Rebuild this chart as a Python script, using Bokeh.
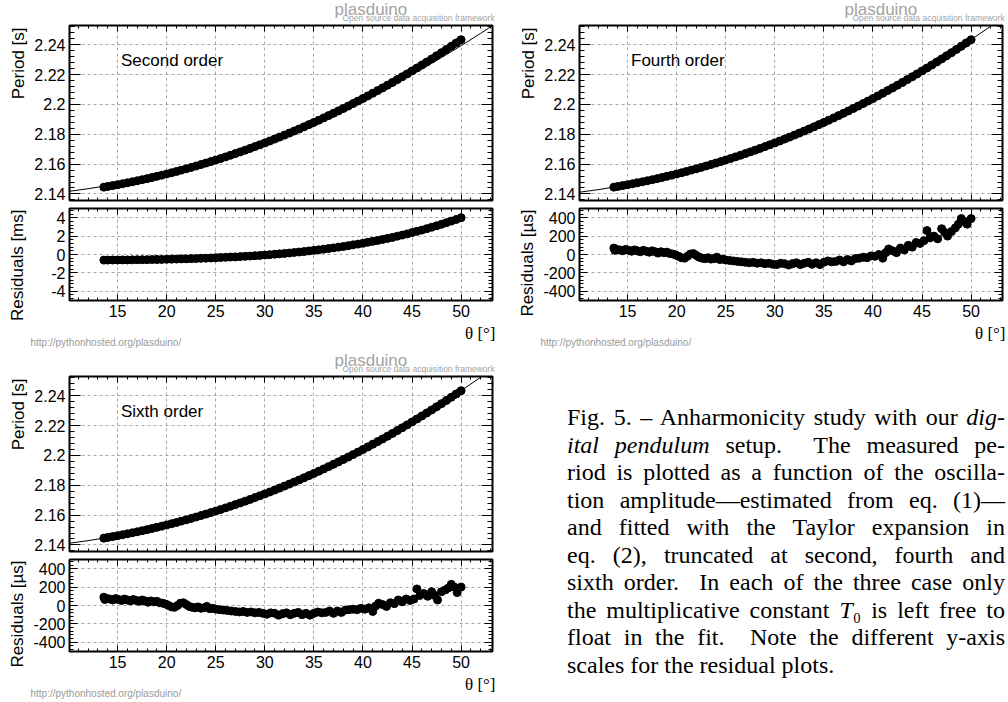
import math
from bokeh.plotting import figure
from bokeh.models import (Range1d, LinearAxis, FixedTicker, Grid,
                          CustomJSTickFormatter, Label, Div)
from bokeh.core.properties import value
from bokeh.layouts import column, row
from bokeh.embed import file_html
from bokeh.resources import INLINE

# ---------------- data ----------------
theta_deg = [13.6, 14.0, 14.5, 15.0, 15.5, 16.0, 16.5, 17.0, 17.5, 18.0,
             18.5, 19.0, 19.5, 20.0, 20.5, 21.0, 21.5, 22.0, 22.5, 23.0,
             23.5, 24.0, 24.5, 25.0, 25.5, 26.0, 26.5, 27.0, 27.5, 28.0,
             28.5, 29.0, 29.5, 30.0, 30.5, 31.0, 31.5, 32.0, 32.5, 33.0,
             33.5, 34.0, 34.5, 35.0, 35.5, 36.0, 36.5, 37.0, 37.5, 38.0,
             38.5, 39.0, 39.5, 40.0, 40.5, 41.0, 41.5, 42.0, 42.5, 43.0,
             43.5, 44.0, 44.5, 45.0, 45.5, 46.0, 46.5, 47.0, 47.5, 48.0,
             48.5, 49.0, 49.5, 50.0]
period_s = [2.14455, 2.14500, 2.14559, 2.14619, 2.14682, 2.14746, 2.14813, 2.14882, 2.14953, 2.15026,
            2.15101, 2.15178, 2.15257, 2.15339, 2.15422, 2.15508, 2.15596, 2.15686, 2.15778, 2.15872,
            2.15969, 2.16067, 2.16168, 2.16271, 2.16376, 2.16483, 2.16593, 2.16704, 2.16818, 2.16934,
            2.17052, 2.17173, 2.17295, 2.17420, 2.17547, 2.17677, 2.17808, 2.17942, 2.18078, 2.18217,
            2.18357, 2.18500, 2.18646, 2.18793, 2.18943, 2.19095, 2.19250, 2.19407, 2.19566, 2.19727,
            2.19891, 2.20058, 2.20226, 2.20397, 2.20571, 2.20747, 2.20925, 2.21106, 2.21289, 2.21474,
            2.21663, 2.21853, 2.22046, 2.22242, 2.22440, 2.22640, 2.22844, 2.23049, 2.23257, 2.23468,
            2.23682, 2.23898, 2.24116, 2.24337]
res2_ms = [-0.61, -0.61, -0.60, -0.60, -0.59, -0.59, -0.58, -0.57, -0.56, -0.56,
           -0.55, -0.54, -0.54, -0.52, -0.51, -0.50, -0.48, -0.47, -0.45, -0.44,
           -0.42, -0.40, -0.38, -0.36, -0.33, -0.31, -0.28, -0.26, -0.23, -0.20,
           -0.17, -0.13, -0.10, -0.06, -0.02, 0.03, 0.07, 0.12, 0.16, 0.22,
           0.27, 0.32, 0.39, 0.45, 0.51, 0.58, 0.65, 0.72, 0.80, 0.87,
           0.96, 1.05, 1.13, 1.22, 1.33, 1.43, 1.53, 1.64, 1.75, 1.86,
           1.99, 2.11, 2.24, 2.38, 2.52, 2.65, 2.81, 2.96, 3.12, 3.28,
           3.46, 3.63, 3.81, 4.00]

theta_res_deg = [13.6, 13.7, 13.9, 14.2, 14.5, 14.8, 15.1, 15.4, 15.7, 16.0,
                 16.3, 16.6, 16.9, 17.2, 17.5, 17.8, 18.1, 18.4, 18.7, 19.0,
                 19.3, 19.6, 19.9, 20.2, 20.5, 20.8, 21.1, 21.4, 21.7, 22.0,
                 22.3, 22.6, 22.9, 23.2, 23.5, 23.8, 24.1, 24.4, 24.7, 25.0,
                 25.4, 25.8, 26.2, 26.6, 27.0, 27.4, 27.8, 28.2, 28.6, 29.0,
                 29.4, 29.8, 30.2, 30.6, 31.0, 31.4, 31.8, 32.2, 32.6, 33.0,
                 33.4, 33.8, 34.2, 34.6, 35.0, 35.4, 35.8, 36.2, 36.6, 37.0,
                 37.4, 37.8, 38.2, 38.6, 39.0, 39.4, 39.8, 40.2, 40.6, 41.0,
                 41.3, 41.6, 42.0, 42.4, 42.8, 43.2, 43.6, 44.0, 44.4, 44.8,
                 45.2, 45.5, 45.8, 46.2, 46.6, 47.0, 47.3, 47.6, 48.0, 48.4,
                 48.7, 49.0, 49.3, 49.6, 50.0]
res4_us = [70, 45, 55, 50, 40, 55, 45, 35, 50, 40,
           30, 45, 35, 25, 40, 30, 15, 30, 20, 25,
           10, 5, -5, -20, -35, -40, -20, 5, 10, -10,
           -30, -40, -45, -35, -50, -45, -30, -55, -50, -60,
           -65, -70, -75, -80, -85, -90, -85, -95, -90, -100,
           -95, -105, -110, -95, -100, -115, -100, -90, -110, -95,
           -85, -105, -90, -110, -85, -70, -80, -75, -60, -80,
           -55, -70, -45, -40, -30, -35, -15, -20, 0, -40,
           20, 60, 40, 20, 70, 50, 100, 80, 130, 120,
           150, 260, 180, 200, 170, 280, 240, 200, 250, 290,
           330, 390, 360, 330, 390]
res6_us = [90, 65, 75, 70, 60, 75, 65, 55, 70, 60,
           50, 65, 55, 45, 60, 50, 35, 50, 40, 45,
           30, 25, 15, 0, -15, -20, 0, 25, 30, 10,
           -10, -20, -25, -15, -30, -25, -10, -35, -30, -40,
           -45, -50, -55, -60, -65, -70, -65, -75, -70, -80,
           -75, -85, -95, -80, -85, -105, -90, -80, -100, -85,
           -75, -100, -85, -105, -85, -70, -80, -75, -60, -85,
           -60, -75, -50, -45, -40, -45, -30, -40, -25, -65,
           -5, 25, 10, -10, 30, 20, 60, 40, 70, 55,
           70, 180, 110, 130, 100, 150, 110, 60, 150, 170,
           190, 230, 200, 140, 200]

theta_fit_deg = [10.1, 12.0, 14.0, 16.0, 18.0, 20.0, 22.0, 24.0, 26.0, 28.0,
                 30.0, 32.0, 34.0, 36.0, 38.0, 40.0, 42.0, 44.0, 46.0, 48.0,
                 50.0, 52.0, 53.2]
fit2_s = [2.14178, 2.14349, 2.14561, 2.14805, 2.15082, 2.15391, 2.15733, 2.16107, 2.16514, 2.16954,
          2.17426, 2.17930, 2.18468, 2.19037, 2.19640, 2.20275, 2.20942, 2.21642, 2.22375, 2.23140,
          2.23937, 2.24768, 2.25281]
fit4_s = [2.14116, 2.14287, 2.14500, 2.14746, 2.15026, 2.15339, 2.15686, 2.16067, 2.16483, 2.16934,
          2.17420, 2.17942, 2.18500, 2.19095, 2.19727, 2.20397, 2.21106, 2.21853, 2.22640, 2.23468,
          2.24337, 2.25249, 2.25816]
fit6_s = [2.14117, 2.14288, 2.14500, 2.14746, 2.15026, 2.15339, 2.15686, 2.16067, 2.16483, 2.16934,
          2.17420, 2.17942, 2.18500, 2.19095, 2.19727, 2.20397, 2.21106, 2.21853, 2.22640, 2.23468,
          2.24336, 2.25246, 2.25812]

# tick positions
x_major = [15, 20, 25, 30, 35, 40, 45, 50]
x_minor = [v for v in range(11, 54) if v % 5 != 0]
p_major = [2.14, 2.16, 2.18, 2.20, 2.22, 2.24]
p_minor = [round(2.136 + 0.004 * i, 3) for i in range(30) if i % 5 != 1]
ms_major = [-4, -2, 0, 2, 4]
ms_minor = [round(-4.8 + 0.4 * i, 1) for i in range(25) if i % 5 != 2]
us_major = [-400, -200, 0, 200, 400]
us_minor = [-480 + 40 * i for i in range(25) if i % 5 != 2]

order_names = ["Second order", "Fourth order", "Sixth order"]
res_titles = ["Residuals [ms]", "Residuals [\u00b5s]", "Residuals [\u00b5s]"]

caption_lines = [
    "Fig. 5. \u2013 Anharmonicity study with our <i>dig-</i>",
    "<i>ital pendulum</i> setup.\u00a0 The measured pe-",
    "riod is plotted as a function of the oscilla-",
    "tion amplitude\u2014estimated from eq. (1)\u2014",
    "and fitted with the Taylor expansion in",
    "eq. (2), truncated at second, fourth and",
    "sixth order.\u00a0 In each of the three case only",
    "the multiplicative constant <i>T</i>\u2080 is left free to",
    "float in the fit.\u00a0 Note the different y-axis",
    "scales for the residual plots.",
]

# ---------------- styling helpers ----------------
SANS = "Liberation Sans"
SERIF = "Liberation Serif"
GRID = "#a8a8a8"
WM = "#a3a3a3"
X_RANGE = (10.1, 53.2)
P_RANGE = (2.1356, 2.2529)
FHP, FHR = 175, 92

fmt_period = "return String(Math.round(tick*1000)/1000);"
fmt_int = "return String(Math.round(tick));"


def text_fig(width, height):
    p = figure(width=width, height=height, x_range=Range1d(0, width), y_range=Range1d(0, height),
               x_axis_type=None, y_axis_type=None, output_backend="svg",
               toolbar_location=None, title=None, min_border=0,
               min_border_left=0, min_border_right=0, min_border_top=0, min_border_bottom=0)
    p.outline_line_color = None
    p.background_fill_color = "white"
    p.border_fill_color = "white"
    return p


def data_fig(width, height, yr, left, right, top, bottom):
    p = figure(width=width, height=height, x_range=Range1d(*X_RANGE), y_range=Range1d(*yr),
               x_axis_type=None, y_axis_type=None, output_backend="svg",
               toolbar_location=None, title=None,
               min_border_left=left, min_border_right=right,
               min_border_top=top, min_border_bottom=bottom)
    p.outline_line_color = "black"
    p.outline_line_width = 2
    p.background_fill_color = "white"
    p.border_fill_color = "white"
    return p


def base_axis(ticker):
    ax = LinearAxis(ticker=ticker)
    ax.axis_line_color = None
    ax.major_tick_out = 0
    ax.minor_tick_out = 0
    ax.major_tick_line_color = "black"
    ax.minor_tick_line_color = "black"
    ax.major_label_text_font = SANS
    ax.major_label_text_font_size = "16px"
    ax.major_label_text_color = "black"
    return ax


def add_axes(p, side, major, minor, tin, tmin, fmt=None, loc=None):
    if fmt is not None:
        ax = base_axis(FixedTicker(ticks=major, minor_ticks=minor))
        ax.formatter = CustomJSTickFormatter(code=fmt)
        ax.major_tick_in = tin
        ax.minor_tick_in = tmin
        ax.major_label_standoff = 4
        p.add_layout(ax, side)
    else:
        for ticks, length in ((major, tin), (minor, tmin)):
            ax = base_axis(FixedTicker(ticks=[], minor_ticks=ticks))
            ax.minor_tick_in = length
            ax.major_tick_in = 0
            ax.major_label_standoff = 0
            ax.fixed_location = loc
            p.add_layout(ax, side)


def add_grid(p, xmaj, ymaj):
    for dim, ticks in ((0, xmaj), (1, ymaj)):
        g = Grid(dimension=dim, ticker=FixedTicker(ticks=ticks))
        g.grid_line_color = GRID
        g.grid_line_dash = "3 3"
        g.grid_line_width = 1
        p.add_layout(g)


def lab(p, x, y, text, size, font=SANS, color="black", align="left",
        baseline="middle", angle=0.0):
    p.add_layout(Label(x=x, y=y, x_units="screen", y_units="screen", text=text,
                       text_font=font, text_font_size=size, text_color=color,
                       text_align=align, text_baseline=baseline, angle=angle))


def make_panel(k, width, fit_y, res_x, res_y, res_range, y_major, y_minor, band):
    inner = width - 30
    right = inner - 39 - 423

    # watermark strip
    tp = text_fig(width, 23)
    lab(tp, 334, 14.5, "plasduino", "17px", color=WM)
    lab(tp, 342, 5.5, "Open source data acquisition framework", "8.5px", color=WM)

    # y-title strip
    lp = text_fig(30, 299)
    lab(lp, 18, 295, "Period [s]", "17px", align="right", angle=math.pi / 2)
    lab(lp, 17, 113, res_titles[k], "17px", align="right", angle=math.pi / 2)

    # period panel
    pp = data_fig(inner, 2 + FHP + 4, P_RANGE, 39, right, 2, 4)
    add_grid(pp, x_major, p_major)
    add_axes(pp, "left", p_major, p_minor, 11, 5, fmt=fmt_period)
    add_axes(pp, "right", p_major, p_minor, 11, 5, loc=X_RANGE[1])
    add_axes(pp, "below", x_major, x_minor, 6, 3, loc=P_RANGE[0])
    add_axes(pp, "above", x_major, x_minor, 6, 3, loc=P_RANGE[1])
    pp.line(theta_deg, period_s, line_color="black", line_width=7)
    pp.scatter(theta_deg, period_s, marker="circle", size=8,
               fill_color="black", line_color="black")
    pp.line(theta_fit_deg, fit_y, line_color="black", line_width=1)
    lab(pp, 51.5, 140, order_names[k], "17px")

    # residual panel
    rp = data_fig(inner, 4 + FHR + 22, res_range, 39, right, 4, 22)
    add_grid(rp, x_major, y_major)
    add_axes(rp, "left", y_major, y_minor, 8, 4, fmt=fmt_int)
    add_axes(rp, "right", y_major, y_minor, 8, 4, loc=X_RANGE[1])
    add_axes(rp, "below", x_major, x_minor, 6, 3, fmt=fmt_int)
    add_axes(rp, "above", x_major, x_minor, 6, 3, loc=res_range[1])
    if band:
        rp.line(res_x, res_y, line_color="black", line_width=7)
    rp.scatter(res_x, res_y, marker="circle", size=8,
               fill_color="black", line_color="black")

    # x-title / url strip (full panel width, not frame-aligned)
    bp = text_fig(width, 29)
    bp.text(x=[495], y=[18], text=["\u03b8 [\u00b0]"], text_font=value(SERIF),
            text_font_size="17px", text_color="black", text_align="right",
            text_baseline="middle")
    bp.text(x=[30], y=[9], text=["http://pythonhosted.org/plasduino/"], text_font=value(SANS),
            text_font_size="10px", text_color="#9a9a9a", text_align="left",
            text_baseline="middle")

    return column(tp, row(lp, column(pp, rp, spacing=0), spacing=0), bp, spacing=0)


panel1 = make_panel(0, 510, fit2_s, theta_deg, res2_ms, (-5, 5), ms_major, ms_minor, True)
panel2 = make_panel(1, 498, fit4_s, theta_res_deg, res4_us, (-500, 500), us_major, us_minor, False)
panel3 = make_panel(2, 510, fit6_s, theta_res_deg, res6_us, (-500, 500), us_major, us_minor, False)

lines_html = "".join(
    '<div style="height:27.5px;line-height:27.5px;text-align:justify;text-align-last:%s;">%s</div>'
    % ("justify" if i < len(caption_lines) - 1 else "left", t)
    for i, t in enumerate(caption_lines))
cap_html = ('<div style="position:relative;width:498px;height:351px;background:white;">'
            '<div style="position:absolute;left:57px;top:53px;width:438px;'
            "font-family:'Liberation Serif';font-size:24px;color:#000;\">"
            + lines_html + '</div></div>')
cap = Div(text=cap_html, width=498, height=351, margin=0)

layout = column(row(panel1, panel2, spacing=0), row(panel3, cap, spacing=0), spacing=0)

open("out.html", "w").write(file_html(layout, INLINE))
